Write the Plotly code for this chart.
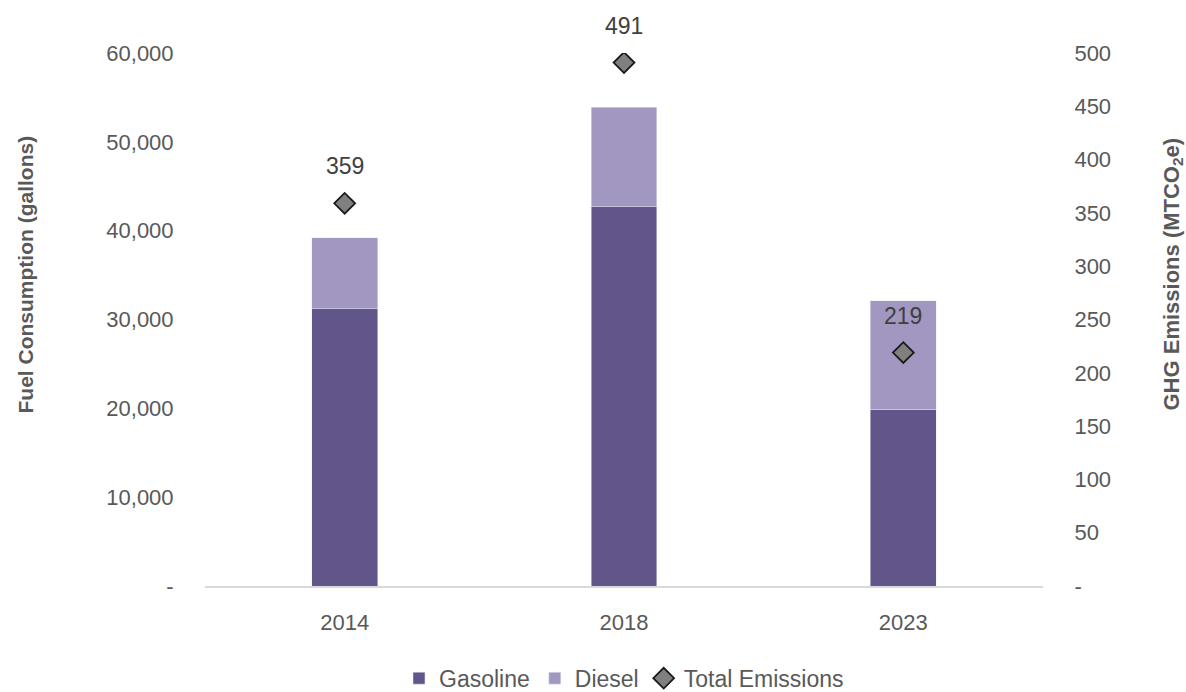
import plotly.graph_objects as go

years = ["2014", "2018", "2023"]
gasoline = [31200, 42700, 19900]
diesel = [8000, 11200, 12200]
emissions = [359, 491, 219]

left_ticks = [0, 10000, 20000, 30000, 40000, 50000, 60000]
left_ticktext = ["-", "10,000", "20,000", "30,000", "40,000", "50,000", "60,000"]
right_ticks = [0, 50, 100, 150, 200, 250, 300, 350, 400, 450, 500]
right_ticktext = ["-"] + [str(v) for v in right_ticks[1:]]

gas_color = "#62558A"
diesel_color = "#A197C0"
txt = "#595959"
font_family = "Liberation Sans, Arial, sans-serif"

fig = go.Figure()
fig.add_trace(go.Bar(x=years, y=gasoline, name="Gasoline", marker_color=gas_color,
                     width=0.236, yaxis="y"))
fig.add_trace(go.Bar(x=years, y=diesel, name="Diesel", marker_color=diesel_color,
                     width=0.236, yaxis="y"))
fig.add_trace(go.Scatter(x=years, y=emissions, name="Total Emissions", mode="markers",
                         marker=dict(symbol="diamond", size=16, color="#808080",
                                     line=dict(color="#1a1a1a", width=1.8)),
                         yaxis="y2"))

# data labels (category index positions on the category axis)
for i, v in enumerate(emissions):
    fig.add_annotation(x=i, y=v, xref="x", yref="y2", text=str(v), showarrow=False,
                       yshift=37, font=dict(size=23, color="#404040", family=font_family))

fig.add_annotation(x=0, xref="paper", xanchor="center", xshift=-180, y=0.5, yref="paper",
                   yshift=45,
                   text="<b>Fuel Consumption (gallons)</b>", textangle=-90, showarrow=False,
                   font=dict(size=21, color=txt, family=font_family))
fig.add_annotation(x=1, xref="paper", xanchor="center", xshift=129, y=0.5, yref="paper",
                   yshift=45,
                   text="<b>GHG Emissions (MTCO<sub>2</sub>e)</b>", textangle=-90, showarrow=False,
                   font=dict(size=22, color=txt, family=font_family))

fig.update_layout(
    barmode="stack",
    width=1186, height=692,
    margin=dict(l=205, r=143, t=53, b=106, autoexpand=False),
    paper_bgcolor="white", plot_bgcolor="white",
    font=dict(family=font_family, size=21, color=txt),
    xaxis=dict(type="category", categoryorder="array", categoryarray=years,
               range=[-0.5, len(years) - 0.5],
               showgrid=False, showline=True, linecolor="#d9d9d9", linewidth=1.5,
               ticks="outside", ticklen=16, tickcolor="rgba(0,0,0,0)", automargin=False,
               tickfont=dict(size=22, color=txt)),
    yaxis=dict(range=[0, 60000], tickvals=left_ticks, ticktext=left_ticktext,
               showgrid=False, zeroline=False, showline=False, automargin=False,
               ticks="outside", ticklen=26, tickcolor="rgba(0,0,0,0)",
               tickfont=dict(size=22, color=txt)),
    yaxis2=dict(range=[0, 500], tickvals=right_ticks, ticktext=right_ticktext,
                overlaying="y", side="right", showgrid=False, zeroline=False, showline=False,
                automargin=False,
                ticks="outside", ticklen=26, tickcolor="rgba(0,0,0,0)",
                tickfont=dict(size=22, color=txt)),
    legend=dict(orientation="h", x=0.5, xanchor="center", y=-0.173, yanchor="middle",
                font=dict(size=23, color=txt), traceorder="normal"),
    showlegend=True,
)

fig.write_html("out.html")
